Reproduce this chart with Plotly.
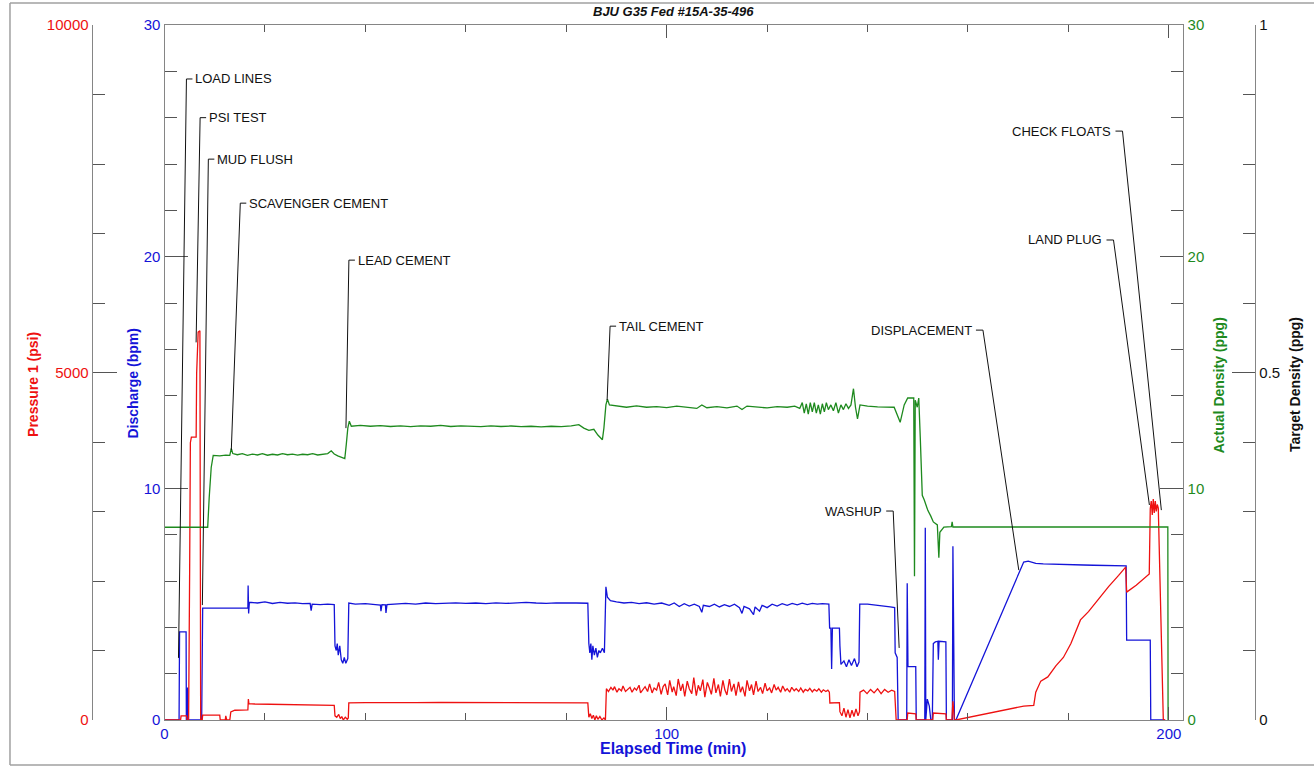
import plotly.graph_objects as go

# ---------------- data ----------------
# Discharge (bpm) vs elapsed time (min)
discharge_pts = [
    (0, 0), (2.9, 0), (3.0, 3.8), (4.3, 3.8), (4.35, 0), (4.5, 0), (4.6, 1.4), (4.7, 0),
    (7.4, 0), (7.6, 4.83), (16.6, 4.83), (16.65, 5.8), (16.75, 4.6), (16.9, 5.08),
    (18.5, 5.05), (20.0, 5.1), (21.5, 5.03), (23.0, 5.08), (24.5, 5.04), (26.0, 5.06),
    (27.5, 5.02), (29.0, 5.03), (29.2, 4.72), (29.4, 5.0), (31.0, 4.98), (32.5, 5.0), (33.8, 4.98),
    (33.95, 3.2), (34.2, 3.0), (34.4, 3.3), (34.6, 2.8), (34.9, 3.2), (35.2, 2.6), (35.5, 2.45),
    (35.8, 2.7), (36.1, 2.45), (36.5, 2.65), (36.7, 5.05),
    (38, 5.0), (40, 5.02), (42, 4.98), (43, 4.96), (43.1, 4.7), (43.3, 4.98), (44.0, 4.97),
    (44.1, 4.62), (44.3, 4.98), (46, 5.0), (48, 5.03), (50, 5.0), (52, 5.05), (54, 5.02),
    (56, 5.04), (58, 5.06), (60, 5.03), (62, 5.05), (64, 5.02), (66, 5.06), (68, 5.03),
    (70, 5.05), (72, 5.08), (74, 5.05), (76, 5.03), (78, 5.06), (80, 5.04), (82, 5.05), (84.3, 5.04),
    (84.5, 3.3), (84.7, 2.9), (84.9, 3.3), (85.1, 2.6), (85.3, 3.2), (85.6, 2.8), (85.9, 3.1),
    (86.2, 2.7), (86.5, 3.0), (86.8, 2.9), (87.2, 3.1), (87.6, 2.9),
    (87.9, 5.75), (88.2, 5.3), (88.8, 5.15), (90, 5.1), (91.5, 5.05), (93, 5.08), (94.5, 5.02),
    (96, 5.06), (97.5, 5.0), (99, 5.05), (100.5, 4.95), (101.5, 5.05), (102.5, 4.9), (103.5, 5.02),
    (104.5, 4.92), (105.5, 5.0), (106.5, 4.9), (107.0, 4.65), (107.3, 4.95), (108.5, 4.9),
    (109.5, 5.0), (110.5, 4.88), (111.5, 4.98), (112.5, 4.9), (113.5, 5.0), (114.5, 4.85),
    (115.0, 4.6), (115.4, 4.9), (116.5, 4.8), (117.3, 4.55), (117.6, 4.88), (118.5, 4.7),
    (119.0, 4.95), (120, 4.85), (121, 5.0), (122, 4.92), (123, 5.02), (124, 4.95), (125, 5.03),
    (126, 4.97), (127, 5.04), (128, 4.98), (129, 5.03), (130, 5.0), (131, 5.02), (132.3, 5.0),
    (132.45, 3.97), (132.7, 3.97), (132.85, 2.2), (133.0, 3.97), (134.4, 3.97), (134.5, 3.2),
    (134.7, 2.4), (135.3, 2.55), (135.8, 2.3), (136.3, 2.6), (136.8, 2.35), (137.4, 2.65),
    (137.9, 2.3), (138.3, 2.5), (138.45, 5.0), (140, 5.0), (141.5, 4.97), (143, 4.92),
    (144.5, 4.88), (145.4, 4.85), (145.5, 2.9), (145.9, 2.7), (146.1, 0),
    (147.8, 0), (147.9, 5.9), (148.05, 2.3), (149.6, 2.3), (149.7, 0), (151.4, 0), (151.5, 8.3),
    (151.6, 0), (151.9, 0.9), (152.3, 0.6), (152.6, 0), (152.9, 0), (153.1, 3.3), (153.5, 3.37),
    (154.0, 3.4), (154.1, 2.6), (154.25, 3.4), (155.6, 3.37), (155.7, 0), (156.9, 0), (157.0, 7.5),
    (157.15, 4.6), (157.3, 0), (157.6, 0),
    (171.1, 6.82), (172.0, 6.86), (173.5, 6.76), (175, 6.74), (177, 6.72), (179, 6.71), (181, 6.7),
    (183, 6.69), (185, 6.68), (187, 6.67), (189, 6.66), (191.5, 6.65), (191.6, 3.45), (196.3, 3.45),
    (196.4, 0), (199.2, 0),
]

# Pressure 1 (psi) vs elapsed time (min)
pressure_pts = [
    (0, 0), (3.2, 0), (3.3, 60), (4.4, 60), (4.5, 0), (4.8, 0), (5.0, 2100), (5.15, 3990),
    (5.35, 4070), (6.3, 4070), (6.4, 4990), (6.7, 5580), (7.05, 5600), (7.2, 0), (7.5, 0),
    (7.6, 70), (11.0, 70), (11.1, 0), (12.1, 0), (12.2, 60), (12.4, 0), (13.0, 0), (13.2, 115),
    (14.0, 140), (16.6, 145), (16.7, 300), (16.8, 235), (18, 230), (20, 228), (22, 225), (24, 222),
    (26, 220), (28, 218), (30, 215), (32, 213), (33.8, 210),
    (33.95, 60), (34.3, 40), (34.7, 80), (35.0, 20), (35.3, 50), (35.6, 0), (36.0, 40), (36.4, 10),
    (36.6, 30), (36.7, 245), (40, 250), (45, 255), (50, 250), (55, 252), (60, 250), (65, 255),
    (70, 252), (75, 250), (80, 248), (84.3, 245),
    (84.5, 40), (84.8, 90), (85.1, 20), (85.4, 70), (85.7, 0), (86.0, 60), (86.3, 10), (86.7, 50),
    (87.1, 0), (87.5, 30), (87.8, 0),
    (88.0, 450), (88.4, 410), (88.9, 470), (89.3, 430), (89.6, 480), (90.1, 400), (90.5, 450),
    (91.0, 420), (91.3, 490), (91.8, 410), (92.2, 440), (92.7, 470), (93.1, 400), (93.6, 460),
    (94.0, 430), (94.5, 500), (94.8, 390), (95.3, 450), (95.7, 480), (96.2, 410), (96.6, 520),
    (97.1, 390), (97.5, 460), (98.0, 430), (98.4, 540), (98.9, 370), (99.3, 480), (99.7, 520),
    (100.2, 360), (100.6, 570), (101.1, 400), (101.4, 480), (101.9, 350), (102.3, 590),
    (102.8, 420), (103.2, 520), (103.6, 340), (104.1, 560), (104.5, 450), (105.0, 380),
    (105.4, 610), (105.9, 350), (106.3, 500), (106.7, 420), (107.2, 580), (107.6, 330),
    (108.1, 540), (108.5, 460), (108.9, 370), (109.4, 600), (109.8, 390), (110.3, 510),
    (110.7, 340), (111.2, 570), (111.6, 430), (112.0, 360), (112.5, 590), (112.9, 410),
    (113.4, 520), (113.8, 350), (114.3, 550), (114.7, 400), (115.1, 480), (115.6, 340),
    (116.0, 570), (116.5, 420), (116.9, 510), (117.3, 360), (117.8, 560), (118.2, 410),
    (118.7, 470), (119.1, 380), (119.6, 530), (120.0, 420), (120.5, 460), (120.9, 390),
    (121.4, 510), (121.8, 430), (122.2, 470), (122.7, 400), (123.1, 490), (123.6, 420),
    (124.0, 450), (124.5, 400), (124.9, 470), (125.4, 420), (125.8, 450), (126.3, 410),
    (126.7, 460), (127.2, 400), (127.6, 440), (128.1, 420), (128.5, 455), (129.0, 405),
    (129.4, 440), (129.9, 415), (130.3, 450), (130.8, 400), (131.2, 435), (131.7, 410),
    (132.1, 430), (132.4, 400),
    (132.5, 245), (134.4, 250), (134.5, 120), (134.9, 60), (135.3, 170), (135.7, 40), (136.1, 150),
    (136.5, 30), (136.9, 140), (137.3, 50), (137.7, 160), (138.1, 60), (138.4, 120), (138.5, 400),
    (139.2, 430), (139.9, 380), (140.6, 440), (141.3, 390), (142.0, 450), (142.7, 380),
    (143.4, 440), (144.1, 400), (144.8, 430), (145.4, 410), (145.5, 200), (145.7, 0),
    (147.9, 0), (148.0, 100), (149.6, 90), (149.7, 0), (153.0, 0), (153.1, 100), (155.6, 90),
    (155.7, 0), (156.8, 0), (157.0, 270), (157.3, 0), (157.6, 0),
    (171.1, 200), (173.1, 210), (173.5, 400), (174.5, 560), (175.9, 620), (177.5, 780),
    (179.0, 900), (180.5, 1100), (182.4, 1440), (184.0, 1560), (186.0, 1740), (188.0, 1920),
    (190.0, 2080), (191.4, 2200), (191.6, 1840), (193.5, 1940), (196.1, 2100), (196.3, 3040),
    (196.5, 3150), (196.7, 2950), (196.9, 3180), (197.1, 2980), (197.3, 3150), (197.5, 3000),
    (197.7, 3100), (197.9, 3050), (198.9, 0), (199.3, 0),
]

# Actual Density (ppg) vs elapsed time (min)
density_pts = [
    (0, 8.32), (8.6, 8.32), (8.9, 9.6), (9.3, 10.9), (9.7, 11.42), (11, 11.4), (12.2, 11.43),
    (13.0, 11.42), (13.3, 11.72), (13.6, 11.5), (14.5, 11.45), (15.5, 11.5), (16.5, 11.42),
    (17.5, 11.48), (18.5, 11.44), (19.5, 11.5), (20.5, 11.43), (21.5, 11.47), (22.5, 11.44),
    (23.5, 11.5), (24.5, 11.45), (25.5, 11.48), (26.5, 11.43), (27.5, 11.47), (28.5, 11.45),
    (29.5, 11.5), (30.5, 11.44), (31.5, 11.48), (32.5, 11.5), (33.2, 11.62), (33.8, 11.48),
    (34.5, 11.4), (35.3, 11.35), (35.9, 11.28), (36.2, 11.9), (36.5, 12.6), (36.8, 12.9),
    (37.2, 12.68), (39, 12.72), (41, 12.68), (43, 12.71), (45, 12.67), (47, 12.7), (49, 12.66),
    (51, 12.7), (53, 12.68), (55, 12.72), (57, 12.67), (59, 12.7), (61, 12.68), (63, 12.66),
    (65, 12.7), (67, 12.67), (69, 12.69), (71, 12.66), (73, 12.68), (75, 12.65), (77, 12.68),
    (79, 12.66), (81, 12.7), (82.5, 12.75), (83.5, 12.6), (84.5, 12.5), (85.5, 12.55),
    (86.3, 12.3), (87.2, 12.1), (87.5, 12.6), (87.9, 13.6), (88.2, 13.85), (88.6, 13.6),
    (90, 13.55), (92, 13.5), (94, 13.56), (96, 13.5), (98, 13.53), (100, 13.48), (102, 13.55),
    (104, 13.5), (106, 13.45), (107, 13.6), (108, 13.48), (110, 13.53), (112, 13.47),
    (114, 13.55), (115, 13.4), (116, 13.55), (118, 13.5), (120, 13.47), (122, 13.53),
    (124, 13.5), (125.5, 13.55), (126.5, 13.45), (127.0, 13.7), (127.4, 13.25), (127.8, 13.65),
    (128.2, 13.2), (128.6, 13.7), (129.0, 13.3), (129.4, 13.7), (129.8, 13.25), (130.2, 13.6),
    (130.6, 13.2), (131.0, 13.65), (131.4, 13.3), (131.8, 13.7), (132.2, 13.4), (132.7, 13.6),
    (133.2, 13.35), (133.7, 13.7), (134.2, 13.25), (134.7, 13.6), (135.2, 13.4), (135.7, 13.65),
    (136.2, 13.45), (136.7, 13.6), (137.2, 14.3), (137.6, 13.5), (138.0, 13.0), (138.5, 13.6),
    (140, 13.55), (142, 13.52), (144, 13.5), (145.3, 13.5), (146.5, 12.85), (147.3, 13.6),
    (148.0, 13.9), (149.2, 13.9), (149.35, 6.2), (149.5, 13.8), (149.9, 13.5), (150.2, 13.9),
    (150.5, 12.2), (150.9, 9.7), (151.3, 9.5), (152.0, 9.05), (152.6, 8.8), (153.1, 8.55),
    (153.9, 8.42), (154.2, 7.0), (154.4, 8.1), (155.2, 8.33), (156.7, 8.35), (156.85, 8.55),
    (157.0, 8.33), (199.8, 8.33), (199.85, 0),
]

# Stage call-outs: name, label corner (min, bpm), pointed point (min, bpm), label side
event_names = ["LOAD LINES", "PSI TEST", "MUD FLUSH", "SCAVENGER CEMENT", "LEAD CEMENT",
               "TAIL CEMENT", "WASHUP", "DISPLACEMENT", "LAND PLUG", "CHECK FLOATS"]
event_label_at = [(4.37, 27.67), (7.09, 26.0), (8.73, 24.21), (15.09, 22.31), (36.72, 19.85),
                  (88.73, 17.0), (145.11, 9.02), (162.98, 16.83), (188.98, 20.72), (190.77, 25.42)]
event_target = [(2.78, 2.68), (6.29, 16.3), (7.54, 4.96), (13.30, 11.65), (36.13, 12.60),
                (88.14, 13.81), (146.30, 3.11), (170.12, 6.47), (196.13, 9.28), (198.51, 9.06)]
event_side = ["left", "left", "left", "left", "left", "left", "right", "right", "right", "right"]

title_text = "BJU G35 Fed #15A-35-496"
x_ticks = [0, 100, 200]
x_minor = [20, 40, 60, 80, 120, 140, 160, 180]
discharge_ticks = [0, 10, 20, 30]
pressure_ticks = [0, 5000, 10000]
pressure_labels = ["0", "5000", "10000"]
density_ticks = [0, 10, 20, 30]
target_ticks = [0, 0.5, 1]
target_labels = ["0", "0.5", "1"]

# ---------------- styling ----------------
W, H = 1314, 770
ML, MR, MT, MB = 0, 0, 25, 50
PW, PH = W - ML - MR, H - MT - MB
FONT = "Liberation Sans, Arial, sans-serif"
RED, BLUE, GREEN, BLACK = "#ee1111", "#1414d8", "#1e8a1e", "#111111"
AX = "#858585"
TK = "#555555"


def px_x(p):
    return (p - ML) / PW


def px_y(p):
    return (H - MB - p) / PH


fig = go.Figure()
fig.add_trace(go.Scatter(x=[p[0] for p in discharge_pts], y=[p[1] for p in discharge_pts],
                         mode="lines", line=dict(color=BLUE, width=1.3), yaxis="y",
                         hoverinfo="skip", name="Discharge"))
fig.add_trace(go.Scatter(x=[p[0] for p in pressure_pts], y=[p[1] for p in pressure_pts],
                         mode="lines", line=dict(color=RED, width=1.3), yaxis="y2",
                         hoverinfo="skip", name="Pressure 1"))
fig.add_trace(go.Scatter(x=[p[0] for p in density_pts], y=[p[1] for p in density_pts],
                         mode="lines", line=dict(color=GREEN, width=1.3), yaxis="y3",
                         hoverinfo="skip", name="Actual Density"))
fig.add_trace(go.Scatter(x=[None], y=[None], mode="lines", yaxis="y4", hoverinfo="skip",
                         name="Target Density"))

shapes = []
annotations = []
for name, (ct, cy), (tt, ty), side in zip(event_names, event_label_at, event_target, event_side):
    shapes.append(dict(type="line", xref="x", yref="y", x0=ct, y0=cy, x1=tt, y1=ty,
                       line=dict(color=BLACK, width=1)))
    if side == "left":
        b0, b1, anchor, shift = 0, 6, "left", 7
    else:
        b0, b1, anchor, shift = -7, 0, "right", -9
    shapes.append(dict(type="line", xref="x", yref="y", xsizemode="pixel", xanchor=ct,
                       x0=b0, x1=b1, y0=cy, y1=cy, line=dict(color=BLACK, width=1)))
    annotations.append(dict(text=name, x=ct, y=cy, xref="x", yref="y", xanchor=anchor,
                            yanchor="middle", xshift=shift, showarrow=False,
                            font=dict(family=FONT, size=13, color=BLACK)))

# frame around the picture
for x0, y0, x1, y1 in [(6, 3, 1320, 3), (6, 3, 6, 765), (6, 765, 1320, 765)]:
    shapes.append(dict(type="line", xref="paper", yref="paper", x0=px_x(x0), y0=px_y(y0),
                       x1=px_x(x1), y1=px_y(y1), line=dict(color="#a0a0a0", width=1.5)))


def paper_text(text, x, y, size, color, angle=0):
    return dict(text=text, x=px_x(x), y=px_y(y), xref="paper", yref="paper",
                xanchor="center", yanchor="middle", showarrow=False, textangle=angle,
                font=dict(family=FONT, size=size, color=color))


annotations += [
    paper_text("<b><i>" + title_text + "</i></b>", 672, 11, 13, BLACK),
    paper_text("<b>Elapsed Time (min)</b>", 671, 748, 16, BLUE),
    paper_text("<b>Pressure 1 (psi)</b>", 29, 384, 14, RED, -90),
    paper_text("<b>Discharge (bpm)</b>", 129, 384, 14, BLUE, -90),
    paper_text("<b>Actual Density (ppg)</b>", 1219, 385, 14, GREEN, -90),
    paper_text("<b>Target Density (ppg)</b>", 1295, 385, 14, BLACK, -90),
]

common = dict(showgrid=False, zeroline=False, showline=True, linecolor=AX, linewidth=1.3,
              ticks="inside", tickcolor=TK, tickwidth=1.1, fixedrange=True)

fig.update_layout(
    width=W, height=H, margin=dict(l=ML, r=MR, t=MT, b=MB, pad=0),
    paper_bgcolor="white", plot_bgcolor="white", showlegend=False,
    font=dict(family=FONT, size=15),
    xaxis=dict(domain=[px_x(161), px_x(1183)], range=[0, 202.9], anchor="y", mirror="ticks",
               tickvals=x_ticks, ticklen=13, tickfont=dict(color=BLUE, size=15),
               minor=dict(tickvals=x_minor, ticks="inside", ticklen=7, tickcolor=TK), **common),
    yaxis=dict(range=[0, 30], anchor="x", side="left", tickvals=discharge_ticks, ticklen=23,
               tickfont=dict(color=BLUE, size=15),
               minor=dict(dtick=2, ticks="inside", ticklen=12, tickcolor=TK), **common),
    yaxis2=dict(range=[0, 10000], overlaying="y", anchor="free", position=px_x(88), side="left",
                tickvals=pressure_ticks, ticktext=pressure_labels, ticklen=24,
                tickfont=dict(color=RED, size=15),
                minor=dict(dtick=1000, ticks="inside", ticklen=12, tickcolor=TK), **common),
    yaxis3=dict(range=[0, 30], overlaying="y", anchor="x", side="right", tickvals=density_ticks,
                ticklen=23, tickfont=dict(color=GREEN, size=15),
                minor=dict(dtick=2, ticks="inside", ticklen=12, tickcolor=TK), **common),
    yaxis4=dict(range=[0, 1], overlaying="y", anchor="free", position=px_x(1255), side="right",
                tickvals=target_ticks, ticktext=target_labels, ticklen=23,
                tickfont=dict(color=BLACK, size=15),
                minor=dict(dtick=0.1, ticks="inside", ticklen=12, tickcolor=TK), **common),
    shapes=shapes, annotations=annotations,
)

fig.write_html("out.html", config={"displayModeBar": False},
               post_script="document.body.style.margin='0';document.body.style.overflow='hidden';")
